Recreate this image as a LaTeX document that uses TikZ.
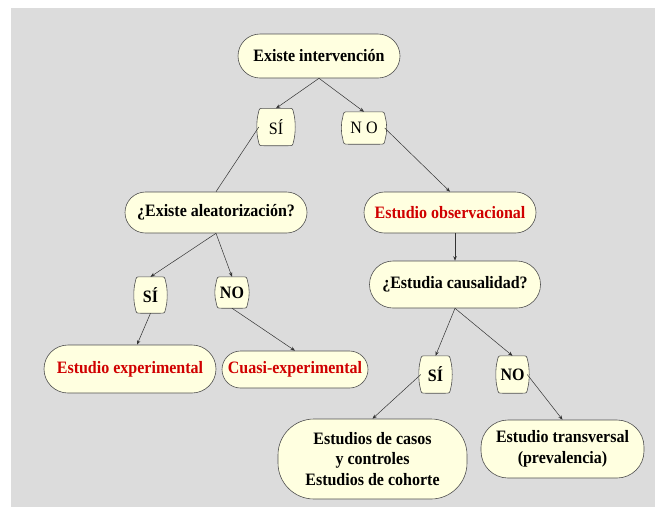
\documentclass[tikz,border=0pt]{standalone}
\usepackage{fontspec}
\setmainfont{Liberation Serif}[FakeStretch=0.92]
\usetikzlibrary{arrows.meta}
\definecolor{bgray}{HTML}{DCDCDC}
\definecolor{boxfill}{HTML}{FFFFE0}
\definecolor{boxline}{HTML}{505050}
\definecolor{txtred}{HTML}{D00000}
\pgfdeclarelayer{bglayer}
\pgfdeclarelayer{midlayer}
\pgfsetlayers{bglayer,midlayer,main}
\tikzset{
  pill/.style={draw=boxline, fill=boxfill, line width=0.6pt, inner sep=0pt,
    align=center, font=\fontsize{17.4}{20.5}\selectfont\bfseries},
  yn/.style={inner sep=0pt, font=\fontsize{17.4}{19}\selectfont\bfseries},
  ynplain/.style={yn, font=\fontsize{17.4}{19}\selectfont},
  ynshape/.style={draw=boxline, fill=boxfill, line width=0.6pt},
  conn/.style={draw=black!80, line width=0.5pt, -{Stealth[length=4.5pt,width=3.5pt]}},
  line/.style={draw=black!80, line width=0.5pt}
}
\newcommand\ynbox[1]{%
  \begin{pgfonlayer}{midlayer}
  \draw[ynshape] ([xshift=5pt]#1.north west) -- ([xshift=-5pt]#1.north east)
    .. controls ([xshift=-0.5pt]#1.north east) .. ([xshift=0.5pt,yshift=-5pt]#1.north east)
    .. controls ([xshift=2.5pt,yshift=-12pt]#1.north east) and ([xshift=2.5pt,yshift=12pt]#1.south east) .. ([xshift=0.5pt,yshift=5pt]#1.south east)
    .. controls ([xshift=-0.5pt]#1.south east) .. ([xshift=-5pt]#1.south east)
    -- ([xshift=5pt]#1.south west)
    .. controls ([xshift=0.5pt]#1.south west) .. ([xshift=-0.5pt,yshift=5pt]#1.south west)
    .. controls ([xshift=-2.5pt,yshift=12pt]#1.south west) and ([xshift=-2.5pt,yshift=-12pt]#1.north west) .. ([xshift=-0.5pt,yshift=-5pt]#1.north west)
    .. controls ([xshift=0.5pt]#1.north west) .. cycle;
  \end{pgfonlayer}}
\begin{document}
\begin{tikzpicture}[x=1pt,y=-1pt]
\useasboundingbox (0,0) rectangle (655,507);
\begin{pgfonlayer}{bglayer}
\fill[bgray] (11,8) rectangle (655,507);
\end{pgfonlayer}

\node[pill, minimum width=162pt, minimum height=44pt, rounded corners=22pt] (ei) at (319,56) {Existe intervención};
\node[ynplain, minimum width=34pt, minimum height=37pt] (si1) at (276,127) {SÍ};
\node[ynplain, minimum width=41pt, minimum height=32pt] (no1) at (364,128) {N O};

\node[pill, minimum width=182pt, minimum height=41pt, rounded corners=20.5pt] (alea) at (216,212.5) {¿Existe aleatorización?};
\node[pill, minimum width=172pt, minimum height=41pt, rounded corners=20.5pt, text=txtred] (obs) at (450,212.5) {Estudio observacional};
\node[pill, minimum width=171pt, minimum height=47pt, rounded corners=23.5pt] (caus) at (455,284.5) {¿Estudia causalidad?};

\node[yn, minimum width=29pt, minimum height=36pt] (si2) at (150.5,295) {SÍ};
\node[yn, minimum width=30pt, minimum height=31pt] (no2) at (232,292.5) {NO};

\node[pill, minimum width=172pt, minimum height=48pt, rounded corners=24pt, text=txtred] (exp) at (130,369) {Estudio experimental};
\node[pill, minimum width=146pt, minimum height=37pt, rounded corners=18.5pt, text=txtred] (cuasi) at (295,369.5) {Cuasi-experimental};

\node[yn, minimum width=29pt, minimum height=37pt] (si3) at (435.5,374.5) {SÍ};
\node[yn, minimum width=29pt, minimum height=37pt] (no3) at (512.5,374.5) {NO};

\node[pill, minimum width=189pt, minimum height=80pt, rounded corners=36pt] (casos) at (372.5,459) {Estudios de casos\\y controles\\Estudios de cohorte};
\node[pill, minimum width=163pt, minimum height=58pt, rounded corners=27pt] (trans) at (562.5,449) {Estudio transversal\\(prevalencia)};

\ynbox{si1}\ynbox{no1}\ynbox{si2}\ynbox{no2}\ynbox{si3}\ynbox{no3}

\draw[conn] (ei.south) -- (si1.north);
\draw[conn] (ei.south) -- (no1.north);
\draw[line] (si1.west) -- (alea.north);
\draw[conn] (no1.east) -- (obs.north);
\draw[conn] (alea.south) -- (si2.north);
\draw[conn] (alea.south) -- (no2.north);
\draw[conn] (si2.south) -- ([xshift=7pt]exp.north);
\draw[conn] (no2.south) -- (cuasi.north);
\draw[conn] ([xshift=5pt]obs.south) -- (caus.north);
\draw[conn] (caus.south) -- (si3.north);
\draw[conn] (caus.south) -- (no3.north);
\draw[conn] (si3.west) -- (casos.north);
\draw[conn] (no3.east) -- (trans.north);
\end{tikzpicture}
\end{document}
